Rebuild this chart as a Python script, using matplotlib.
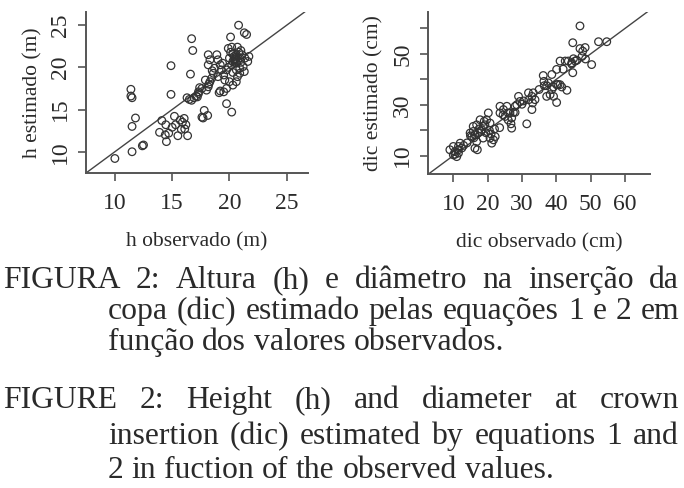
import numpy as np
import matplotlib
matplotlib.use("Agg")
import matplotlib.pyplot as plt

# h (height, m): observed vs estimated
h_obs = [10.0, 11.5, 12.4, 12.5, 11.5, 11.8, 11.4, 11.4, 11.5,
         14.9, 14.9, 16.7, 16.8, 16.6,
         16.3, 16.5, 16.7, 16.9, 17.2, 17.4, 17.3, 17.1,
         14.1, 15.2, 14.45, 13.9, 14.4, 14.5, 15.0, 15.7, 16.05, 16.2, 15.8, 15.5, 16.35, 15.3, 14.7, 15.9, 16.1,
         17.8, 17.6, 18.1, 17.7, 19.75, 20.2, 19.2, 19.5, 19.1,
         18.15, 18.3, 18.15, 18.9, 19.0, 19.2, 19.3, 18.7, 18.6, 19.0, 19.5, 19.6, 18.45, 18.3, 18.15,
         17.6, 17.3, 18.0, 18.2, 17.9, 18.5, 19.4,
         19.9, 20.2, 20.7, 20.5, 20.3, 20.6, 20.9, 21.1, 21.35, 21.6, 20.0, 20.2, 19.75, 20.6, 20.9,
         20.7, 20.6, 20.0, 20.3, 19.75, 20.9, 21.2,
         20.4, 20.5, 20.6, 20.3, 20.7, 20.5, 20.4, 20.6, 20.8, 20.1, 21.0, 21.3, 21.0, 20.3, 19.9,
         20.8, 21.3, 21.5, 20.1, 21.7]
h_est = [9.2, 10.0, 10.7, 10.8, 13.0, 14.0, 17.4, 16.6, 16.4,
         20.2, 16.8, 23.4, 22.0, 19.2,
         16.4, 16.2, 16.1, 16.4, 16.5, 17.6, 16.9, 16.6,
         13.7, 14.2, 13.2, 12.3, 12.0, 11.2, 12.9, 13.75, 13.95, 13.2, 12.65, 11.9, 11.9, 13.2, 12.2, 13.5, 12.7,
         14.9, 14.1, 14.3, 14.0, 15.7, 14.7, 17.2, 17.1, 17.0,
         21.5, 20.9, 20.3, 21.5, 20.9, 20.3, 19.7, 19.9, 19.3, 18.9, 19.1, 18.5, 18.7, 18.3, 17.7,
         17.5, 17.1, 17.3, 18.0, 18.5, 19.6, 20.5,
         22.25, 22.4, 22.4, 20.9, 20.7, 20.5, 21.1, 21.5, 21.1, 20.7, 21.1, 20.3, 19.7, 19.7, 19.9,
         18.9, 18.3, 18.3, 17.9, 17.5, 19.3, 20.1,
         21.3, 21.0, 21.2, 21.6, 20.8, 20.6, 20.9, 21.5, 21.8, 21.8, 20.6, 19.5, 22.0, 19.4, 20.0,
         25.0, 24.1, 23.9, 23.6, 21.3]

# dic (crown insertion diameter, cm): observed vs estimated
dic_obs = [46.9, 44.8, 52.3, 54.7, 46.9, 48.4, 47.7, 50.3, 44.8, 45.5, 45.0, 44.5, 43.5, 41.1, 42.6, 40.1, 38.7,
           36.2, 36.4, 37.2, 37.7, 38.7, 39.2, 40.1, 41.1, 41.6, 43.1, 40.1, 38.2, 37.2, 39.2, 40.5,
           33.3, 32.9, 33.8, 33.1, 32.9, 31.9,
           29.0, 29.4, 28.5, 28.0, 26.5, 27.0, 24.6, 23.6, 25.6, 26.0, 25.1, 23.6, 27.0, 31.4, 30.0, 27.5, 26.8,
           20.2, 19.7, 19.2, 18.7, 20.7, 18.3, 17.3, 16.3, 15.4, 14.9, 15.8, 17.8, 16.8, 21.7, 21.2, 20.7, 22.2,
           18.7, 16.8, 16.3, 12.0, 11.5, 10.0, 10.5, 10.0, 11.0, 9.0, 11.5, 15.8, 17.0, 19.5, 22.0, 23.5,
           16.0, 15.0, 18.0, 20.5, 21.0, 17.5, 19.0, 13.0, 10.5, 11.5, 12.5, 14.0,
           24.5, 26.0, 28.0, 30.5, 32.0, 35.0, 36.5, 42.0, 44.5, 46.0, 47.5, 48.5]
dic_est = [61.0, 54.4, 54.8, 54.8, 52.1, 52.5, 51.1, 45.8, 42.6, 47.2, 48.1, 46.5, 47.2, 47.2, 47.2, 43.9, 41.9,
           41.5, 39.2, 37.5, 38.6, 36.0, 37.0, 37.9, 37.9, 37.0, 35.7, 30.9, 34.0, 33.3, 33.3, 38.0,
           34.7, 33.3, 32.0, 30.7, 28.1, 34.7,
           33.3, 31.3, 30.0, 29.4, 26.8, 24.8, 28.1, 29.4, 29.4, 26.8, 25.4, 26.8, 20.8, 22.5, 30.2, 27.0, 22.5,
           26.8, 24.1, 22.1, 21.5, 22.8, 20.2, 18.9, 18.2, 17.5, 18.9, 21.5, 24.1, 22.1, 16.2, 14.9, 16.9, 17.5,
           16.9, 15.5, 12.9, 14.9, 13.6, 13.6, 11.6, 10.3, 9.6, 12.3, 12.3, 19.5, 12.3, 19.0, 20.5, 21.0,
           17.0, 17.8, 19.5, 20.0, 18.5, 20.5, 23.5, 14.0, 10.5, 11.0, 13.0, 15.0,
           26.0, 24.0, 27.0, 31.5, 32.0, 36.0, 37.5, 44.0, 46.0, 47.5, 49.0, 48.0]

h_ticks = [10, 15, 20, 25]
dic_xticks = [10, 20, 30, 40, 50, 60]
dic_yticks = [10, 20, 30, 40, 50, 60]
dic_ylabels = ["10", "", "30", "", "50", ""]

caption = [
    ("FIGURA 2: Altura (h) e diâmetro na inserção da", 3, 288, True),
    ("copa (dic) estimado pelas equações 1 e 2 em", 108, 319, True),
    ("função dos valores observados.", 108, 350, False),
    ("FIGURE 2: Height (h) and diameter at crown", 3, 408, True),
    ("insertion (dic) estimated by equations 1 and", 108, 444, True),
    ("2 in fuction of the observed values.", 108, 478, False),
]

W, H = 684, 488
SERIF = "Liberation Serif"
AX_COL = "#555555"
PT_COL = "#333333"
TXT_COL = "#2a2a2a"

fig = plt.figure(figsize=(W / 100, H / 100), dpi=100)


def panel(rect, x, y, xlim, ylim, xticks, yticks, ylabels, xlabel, ylabel):
    ax = fig.add_axes(rect)
    ax.scatter(x, y, s=30, facecolors="none", edgecolors=PT_COL, linewidths=0.9, clip_on=False, zorder=3)
    ax.axline((0, 0), slope=1, color="#444444", lw=1.0, zorder=2)
    ax.set_xlim(*xlim)
    ax.set_ylim(*ylim)
    for s in ["top", "right"]:
        ax.spines[s].set_visible(False)
    for s in ["left", "bottom"]:
        ax.spines[s].set_color(AX_COL)
        ax.spines[s].set_linewidth(1.4)
    ax.set_xticks(xticks)
    ax.set_yticks(yticks)
    ax.set_yticklabels(ylabels, rotation=90, va="center")
    ax.tick_params(direction="out", length=5.5, width=1.2, color=AX_COL, labelsize=17)
    ax.tick_params(axis="x", pad=9)
    ax.tick_params(axis="y", pad=5)
    for lab in ax.get_xticklabels() + ax.get_yticklabels():
        lab.set_family(SERIF)
        lab.set_color(TXT_COL)
    ax.set_xlabel(xlabel, family=SERIF, fontsize=15.5, color=TXT_COL, labelpad=13)
    ax.set_ylabel(ylabel, family=SERIF, fontsize=15.5, color=TXT_COL, labelpad=6)
    return ax


panel([86 / W, 1 - 173 / H, 222 / W, 161.3 / H], h_obs, h_est,
      (7.48, 26.86), (7.48, 26.6), h_ticks, h_ticks, [str(t) for t in h_ticks],
      "h observado (m)", "h estimado (m)")
panel([427.7 / W, 1 - 174 / H, 222.3 / W, 162.3 / H], dic_obs, dic_est,
      (2.54, 67.3), (2.77, 66.6), dic_xticks, dic_yticks, dic_ylabels,
      "dic observado (cm)", "dic estimado (cm)")

# caption, justified like the printed page
renderer = fig.canvas.get_renderer()
x_right = 679


def width_px(s, size):
    t = fig.text(0, 0, s, family=SERIF, fontsize=size)
    w = t.get_window_extent(renderer).width
    t.remove()
    return w


# second line is set almost tight in the original: size the font from it
cap_size = 10 * (x_right - 108) / width_px(caption[1][0], 10) * 0.985
space = width_px("a a", cap_size) - width_px("aa", cap_size)

for line, x0, base, justify in caption:
    words = line.split(" ")
    texts = [fig.text(0, 1 - base / H, w, family=SERIF, fontsize=cap_size, color=TXT_COL, va="baseline")
             for w in words]
    widths = [t.get_window_extent(renderer).width for t in texts]
    gap = (x_right - x0 - sum(widths)) / (len(words) - 1) if justify else space
    x = x0
    for t, w in zip(texts, widths):
        t.set_x(x / W)
        x += w + gap

fig.savefig("out.png", dpi=100)
